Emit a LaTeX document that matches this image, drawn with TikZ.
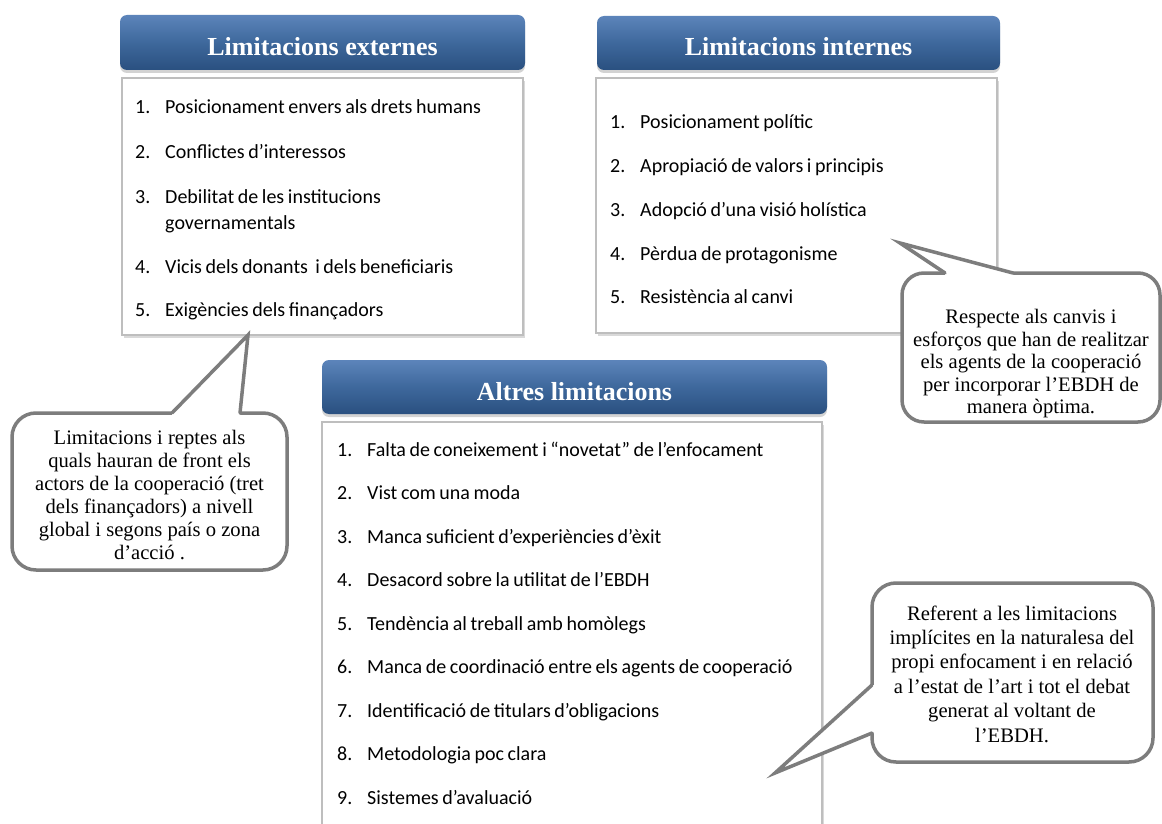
\documentclass[tikz,border=0pt]{standalone}
\usepackage{fontspec}
\setmainfont{Liberation Serif}
\newfontfamily\listfont[WordSpace=0.8]{Carlito}
\usetikzlibrary{shadows,calc}
\definecolor{hdtop}{RGB}{92,132,186}
\definecolor{hdmid}{RGB}{62,104,156}
\definecolor{hdbot}{RGB}{42,80,128}
\definecolor{callgray}{RGB}{125,125,125}
\definecolor{bodyline}{RGB}{190,190,190}
\begin{document}
\begin{tikzpicture}[x=1pt,y=-1pt,
  header/.style={rectangle, rounded corners=7pt, top color=hdtop, bottom color=hdbot, middle color=hdmid,
    text=white, font=\bfseries\fontsize{26}{30}\selectfont, inner sep=0pt, text height=26pt, text depth=0pt,
    drop shadow={shadow xshift=0pt, shadow yshift=-3pt, opacity=0.35}},
  panel/.style={rectangle, fill=white, draw=bodyline, line width=1.5pt, inner sep=0pt,
    drop shadow={shadow xshift=2pt, shadow yshift=-3pt, opacity=0.3}},
  num/.style={anchor=base west, font=\listfont\fontsize{20}{23}\selectfont, inner sep=0pt},
  item/.style={anchor=base west, font=\listfont\fontsize{20}{23}\selectfont, inner sep=0pt},
  callbox/.style={rectangle, rounded corners=24pt, draw=callgray, line width=3.5pt, fill=white, inner sep=0pt},
  calltext/.style={align=center, inner sep=0pt, font=\fontsize{20.6}{23}\selectfont},
  tail/.style={draw=callgray, line width=3.5pt, line join=miter, line cap=round},
]
\useasboundingbox (0,0) rectangle (1162,824);

% ---------- Box 1 : externes ----------
\node[panel, minimum width=401pt, minimum height=257pt] (bd1) at (322.5,206.5) {};
\node[header, minimum width=405pt, minimum height=55pt] (hd1) at (322.5,42.5) {Limitacions externes};
\node[num] (e1n) at (135,114) {1.}; \node[item] (e1) at (165,114) {Posicionament envers als drets humans};
\node[num] (e2n) at (135,159) {2.}; \node[item] (e2) at (165,159) {Conflictes d’interessos};
\node[num] (e3n) at (135,204) {3.}; \node[item] (e3) at (165,204) {Debilitat de les institucions};
\node[item] (e3b) at (165,229) {governamentals};
\node[num] (e4n) at (135,273) {4.}; \node[item] (e4) at (165,273) {Vicis dels donants~ i dels beneficiaris};
\node[num] (e5n) at (135,316) {5.}; \node[item] (e5) at (165,316) {Exigències dels finançadors};

% ---------- Box 2 : internes ----------
\node[panel, minimum width=401pt, minimum height=255pt] (bd2) at (796.5,205.5) {};
\node[header, minimum width=403pt, minimum height=54pt] (hd2) at (798.5,43) {Limitacions internes};
\node[num] (i1n) at (610,129) {1.}; \node[item] (i1) at (640,129) {Posicionament polític};
\node[num] (i2n) at (610,172) {2.}; \node[item] (i2) at (640,172) {Apropiació de valors i principis};
\node[num] (i3n) at (610,216) {3.}; \node[item] (i3) at (640,216) {Adopció d’una visió holística};
\node[num] (i4n) at (610,260) {4.}; \node[item] (i4) at (640,260) {Pèrdua de protagonisme};
\node[num] (i5n) at (610,303) {5.}; \node[item] (i5) at (640,303) {Resistència al canvi};

% ---------- Box 3 : altres ----------
\node[panel, minimum width=500pt, minimum height=408pt] (bd3) at (572,626) {};
\node[header, minimum width=505pt, minimum height=54pt] (hd3) at (574.5,387) {Altres limitacions};
\node[num] (a1n) at (337,456) {1.}; \node[item] (a1) at (367,456) {Falta de coneixement i “novetat” de l’enfocament};
\node[num] (a2n) at (337,499.5) {2.}; \node[item] (a2) at (367,499.5) {Vist com una moda};
\node[num] (a3n) at (337,543) {3.}; \node[item] (a3) at (367,543) {Manca suficient d’experiències d’èxit};
\node[num] (a4n) at (337,586.5) {4.}; \node[item] (a4) at (367,586.5) {Desacord sobre la utilitat de l’EBDH};
\node[num] (a5n) at (337,630) {5.}; \node[item] (a5) at (367,630) {Tendència al treball amb homòlegs};
\node[num] (a6n) at (337,673.5) {6.}; \node[item] (a6) at (367,673.5) {Manca de coordinació entre els agents de cooperació};
\node[num] (a7n) at (337,717) {7.}; \node[item] (a7) at (367,717) {Identificació de titulars d’obligacions};
\node[num] (a8n) at (337,760.5) {8.}; \node[item] (a8) at (367,760.5) {Metodologia poc clara};
\node[num] (a9n) at (337,804) {9.}; \node[item] (a9) at (367,804) {Sistemes d’avaluació};

% ---------- Callout 1 ----------
\node[callbox, minimum width=275pt, minimum height=157pt] (c1) at (149.5,491.5) {};
\coordinate (c1a) at (172,413); \coordinate (c1t) at (248,335); \coordinate (c1b) at (240,413);
\fill[white] (c1a) -- (c1t) -- (c1b) -- ($(c1b)+(0,4)$) -- ($(c1a)+(0,4)$) -- cycle;
\draw[tail] (c1a) -- (c1t) -- (c1b);
\node[calltext] (c1txt) at (149.5,494.5) {Limitacions i reptes als\\quals hauran de front els\\actors de la cooperació (tret\\dels finançadors) a nivell\\global i segons país o zona\\d’acció .};

% ---------- Callout 2 ----------
\node[callbox, rounded corners=22pt, minimum width=258pt, minimum height=149pt] (c2) at (1031,347.5) {};
\coordinate (c2a) at (945,273); \coordinate (c2t) at (900,243); \coordinate (c2b) at (1013,273);
\fill[white] (c2a) -- (c2t) -- (c2b) -- ($(c2b)+(0,4)$) -- ($(c2a)+(0,4)$) -- cycle;
\draw[tail] (c2a) -- (c2t) -- (c2b);
\node[calltext, font=\fontsize{20.6}{22.5}\selectfont] (c2txt) at (1031,364) {Respecte als canvis i\\esforços que han de realitzar\\els agents de la cooperació\\per incorporar l’EBDH de\\manera òptima.};

% ---------- Callout 3 ----------
\node[callbox, minimum width=281pt, minimum height=179pt] (c3) at (1012.5,672.5) {};
\coordinate (c3a) at (872,685); \coordinate (c3t) at (775,773); \coordinate (c3b) at (872,733);
\fill[white] (c3a) -- (c3t) -- (c3b) -- ($(c3b)+(4,0)$) -- ($(c3a)+(4,0)$) -- cycle;
\draw[tail] (c3a) -- (c3t) -- (c3b);
\node[calltext, font=\fontsize{20.6}{24.4}\selectfont] (c3txt) at (1012,674) {Referent a les limitacions\\implícites en la naturalesa del\\propi enfocament i en relació\\a l’estat de l’art i tot el debat\\generat al voltant de\\l’EBDH.};
\end{tikzpicture}
\end{document}
